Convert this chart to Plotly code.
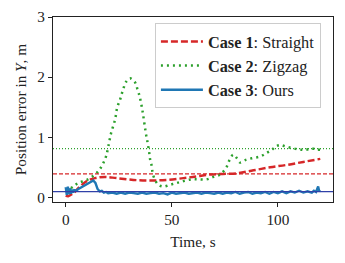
import plotly.graph_objects as go

# ---- data ----
red_t = [0, 1.2, 3.6, 6.7, 9.9, 13.8, 18.5, 24, 31.9, 39.8, 47.6, 55.5, 61.8, 68, 74, 80.7, 88.5, 96.4, 104.2, 112, 120]
red_v = [0.03, 0.02, 0.07, 0.18, 0.27, 0.32, 0.34, 0.32, 0.29, 0.28, 0.29, 0.32, 0.35, 0.38, 0.39, 0.40, 0.45, 0.50, 0.54, 0.59, 0.64]

green_t = [0, 3.6, 5.9, 9.9, 13.8, 15.9, 17.7, 19, 20.1, 21.4, 23.3, 24.3, 25.5, 26.4, 27.2, 28.4, 30.3,
           32.7, 33.8, 34.7, 35.4, 36, 36.5, 37.9, 38.5, 39.3, 39.8, 40.6, 41, 42.1, 43.7, 46, 49.2,
           52.4, 55.5, 59.4, 62.5, 66.5, 69.6, 72.8, 74.3, 75.9, 77.2, 79, 80.7, 82.2, 84.6, 87.7,
           91.7, 94.8, 97.2, 99.2, 101.1, 103.4, 106.6, 109.7, 112.9, 116, 118.4, 120]
green_v = [0.10, 0.18, 0.24, 0.29, 0.38, 0.46, 0.57, 0.68, 0.85, 1.07, 1.30, 1.50, 1.61, 1.72, 1.81, 1.92, 1.98,
           1.91, 1.80, 1.70, 1.59, 1.48, 1.37, 1.04, 0.93, 0.76, 0.63, 0.51, 0.40, 0.29, 0.21, 0.18, 0.21,
           0.24, 0.27, 0.30, 0.30, 0.30, 0.34, 0.38, 0.43, 0.51, 0.62, 0.71, 0.65, 0.58, 0.62, 0.65,
           0.68, 0.74, 0.79, 0.85, 0.87, 0.85, 0.82, 0.80, 0.79, 0.81, 0.80, 0.79]

blue_t = [0, 0.5, 1, 1.5, 2, 2.5, 3, 3.5, 4, 5, 6, 7, 8, 9, 10, 11, 12, 13, 14, 15, 16, 17, 18, 19, 20,
          22, 24, 26, 28, 30, 32, 34, 36, 38, 40, 42, 44, 46, 48, 50, 52, 54, 56, 58, 60, 62, 64, 66, 68, 70,
          72, 74, 76, 78, 80, 82, 84, 86, 88, 90, 92, 94, 96, 98, 100, 102, 104, 106, 108, 110, 112, 114,
          116, 117, 118, 119, 119.5, 120]
blue_v = [0.17, 0.04, 0.18, 0.05, 0.15, 0.06, 0.13, 0.08, 0.12, 0.11, 0.14, 0.16, 0.18, 0.20, 0.22, 0.25, 0.27, 0.28, 0.24, 0.14, 0.10, 0.11, 0.08, 0.09, 0.07,
          0.08, 0.06, 0.08, 0.06, 0.08, 0.07, 0.06, 0.08, 0.06, 0.07, 0.08, 0.06, 0.07, 0.05, 0.08, 0.06, 0.07, 0.08, 0.06, 0.07, 0.08, 0.06, 0.08, 0.07, 0.06,
          0.08, 0.06, 0.08, 0.07, 0.09, 0.06, 0.08, 0.09, 0.06, 0.08, 0.07, 0.09, 0.06, 0.09, 0.07, 0.10, 0.07, 0.10, 0.08, 0.11, 0.08, 0.10,
          0.08, 0.11, 0.09, 0.18, 0.10, 0.12]

mean_levels = [0.39, 0.81, 0.095]

series_names = ["<b>Case 1</b>: Straight", "<b>Case 2</b>: Zigzag", "<b>Case 3</b>: Ours"]
x_ticks = [0, 50, 100]
y_ticks = [0, 1, 2, 3]

RED, GREEN, BLUE, NAVY = "#d62728", "#2ca02c", "#1f77b4", "#3040a8"
FONT = "Liberation Serif"
FS = 15.3
LFS = 16.3

fig = go.Figure()
fig.add_trace(go.Scatter(x=red_t, y=red_v, mode="lines", name=series_names[0],
                         line=dict(color=RED, width=2.5, dash="7px,3px", shape="spline")))
fig.add_trace(go.Scatter(x=green_t, y=green_v, mode="lines", name=series_names[1],
                         line=dict(color=GREEN, width=2.5, dash="2px,4px", shape="spline")))
fig.add_trace(go.Scatter(x=blue_t, y=blue_v, mode="lines", name=series_names[2],
                         line=dict(color=BLUE, width=2.4)))

fig.add_hline(y=mean_levels[0], line=dict(color=RED, width=1.2, dash="4px,2px"), layer="above")
fig.add_hline(y=mean_levels[1], line=dict(color=GREEN, width=1.2, dash="1px,2px"), layer="above")
fig.add_hline(y=mean_levels[2], line=dict(color=NAVY, width=1.3), layer="above")

axis_common = dict(showgrid=False, zeroline=False, showline=True, linecolor="#222", linewidth=1,
                   mirror=True, ticks="outside", ticklen=4, tickwidth=1, tickcolor="#222",
                   automargin=False,
                   tickfont=dict(family=FONT, size=FS, color="#222"))

# page body has an 8px default margin, so the figure is sized/offset to compensate
fig.update_layout(
    width=337, height=255,
    margin=dict(l=45, r=12, t=9, b=61),
    plot_bgcolor="white", paper_bgcolor="white",
    font=dict(family=FONT, size=FS, color="#222"),
    xaxis=dict(range=[-6, 126], tickvals=x_ticks,
               title=dict(text="Time, s", font=dict(family=FONT, size=FS), standoff=8), **axis_common),
    yaxis=dict(range=[-0.077, 3], tickvals=y_ticks,
               title=dict(text="Position error in <i>Y</i>, m", font=dict(family=FONT, size=FS), standoff=6),
               **axis_common),
    legend=dict(x=0.364, y=0.966, xanchor="left", yanchor="top",
                bgcolor="rgba(255,255,255,0.85)", bordercolor="#cccccc", borderwidth=1,
                font=dict(family=FONT, size=LFS, color="#222"), itemwidth=42),
    showlegend=True,
)

fig.write_html("out.html")
